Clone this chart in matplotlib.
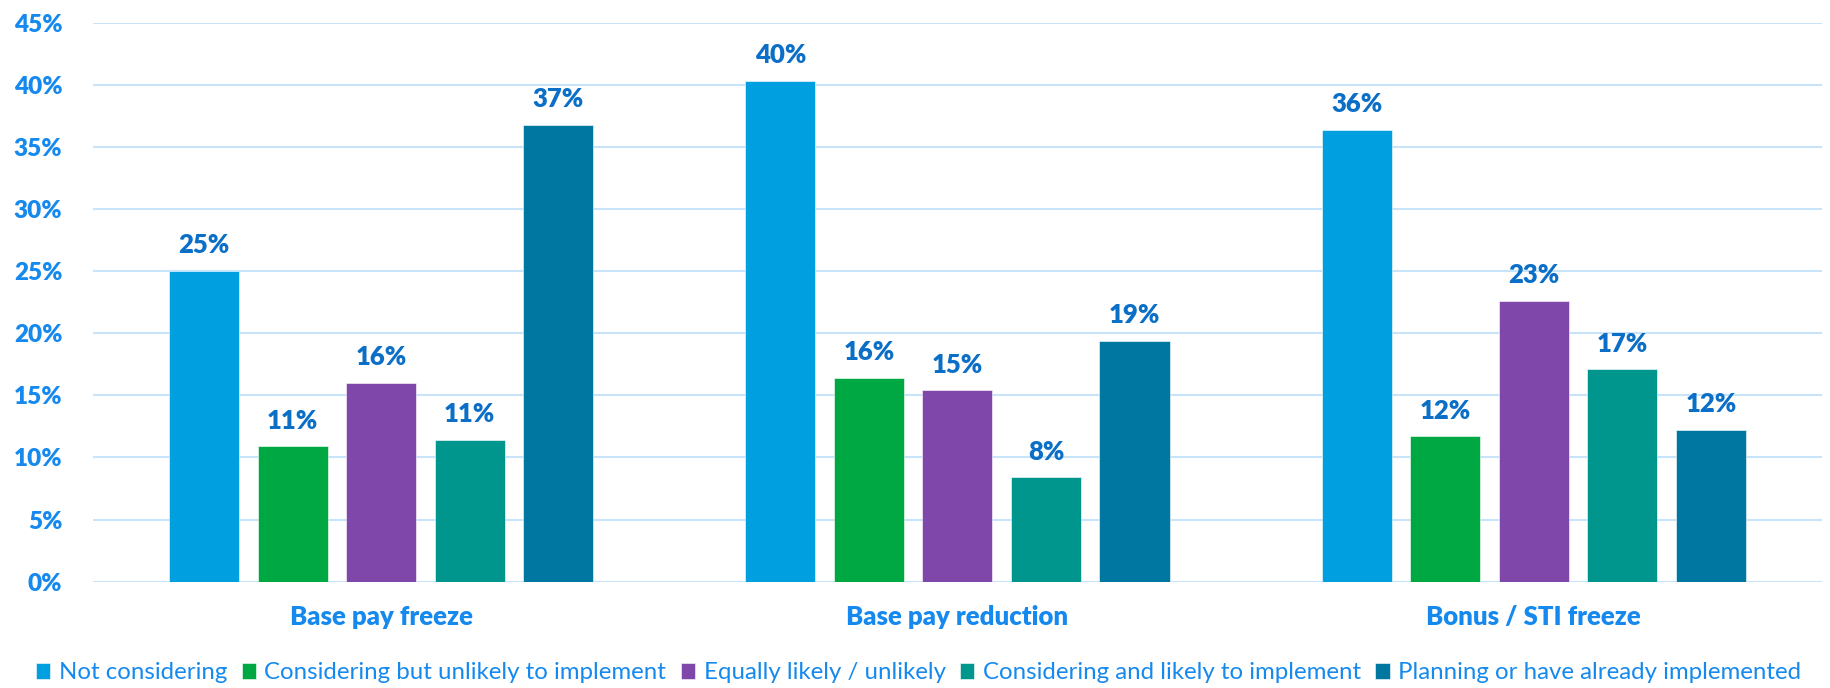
import matplotlib.pyplot as plt
import numpy as np

plt.rcParams['font.family'] = ['Lato', 'DejaVu Sans']

categories = ["Base pay freeze", "Base pay reduction", "Bonus / STI freeze"]
series = [
    "Not considering",
    "Considering but unlikely to implement",
    "Equally likely / unlikely",
    "Considering and likely to implement",
    "Planning or have already implemented",
]
# values in %, one list per series (across the three categories)
not_considering = [25.0, 40.3, 36.4]
unlikely = [10.9, 16.4, 11.7]
equally = [16.0, 15.4, 22.6]
likely = [11.4, 8.4, 17.1]
planning = [36.8, 19.4, 12.2]
values = [not_considering, unlikely, equally, likely, planning]

colors = ["#009FDF", "#00A843", "#7F47AA", "#00958D", "#0077A0"]
tick_blue = "#1589EE"
label_blue = "#0B6FC7"
grid_blue = "#C8E4FA"

fig = plt.figure(figsize=(18.3, 6.88), dpi=100)
ax = fig.add_axes([0.0508, 0.1545, 0.9448, 0.8125])

x = np.arange(len(categories))
width = 0.1215
step = 0.1536
for i, (name, vals, col) in enumerate(zip(series, values, colors)):
    pos = x + (i - 2) * step
    bars = ax.bar(pos, vals, width, color=col, label=name, zorder=3,
                  edgecolor="#FFFFFF", linewidth=0.4)
    for b, v in zip(bars, vals):
        ax.text(b.get_x() + b.get_width() / 2, v + 1.1, f"{v:.0f}%",
                ha="center", va="bottom", fontsize=18.5, fontweight="heavy",
                color=label_blue)

ax.set_xlim(-0.5, 2.5)
ax.set_ylim(0, 45)
ax.set_yticks(range(0, 46, 5))
ax.set_yticklabels([f"{t}%" for t in range(0, 46, 5)])
ax.set_xticks(x)
ax.set_xticklabels(categories)
ax.tick_params(axis="y", length=0, pad=22, labelsize=17.5, labelcolor=tick_blue)
ax.tick_params(axis="x", length=0, pad=17, labelsize=18.5, labelcolor=tick_blue)
for lbl in ax.get_yticklabels() + ax.get_xticklabels():
    lbl.set_fontweight("heavy")

ax.grid(axis="y", color=grid_blue, linewidth=1.5, zorder=0)
for s in ax.spines.values():
    s.set_visible(False)

leg = fig.legend(loc="center", bbox_to_anchor=(0.502, 0.022), ncol=5,
                 frameon=False, fontsize=17.3, handlelength=0.6,
                 handleheight=0.6, handletextpad=0.35, columnspacing=0.6)
for t in leg.get_texts():
    t.set_color(tick_blue)

fig.savefig("out.png", dpi=100)
